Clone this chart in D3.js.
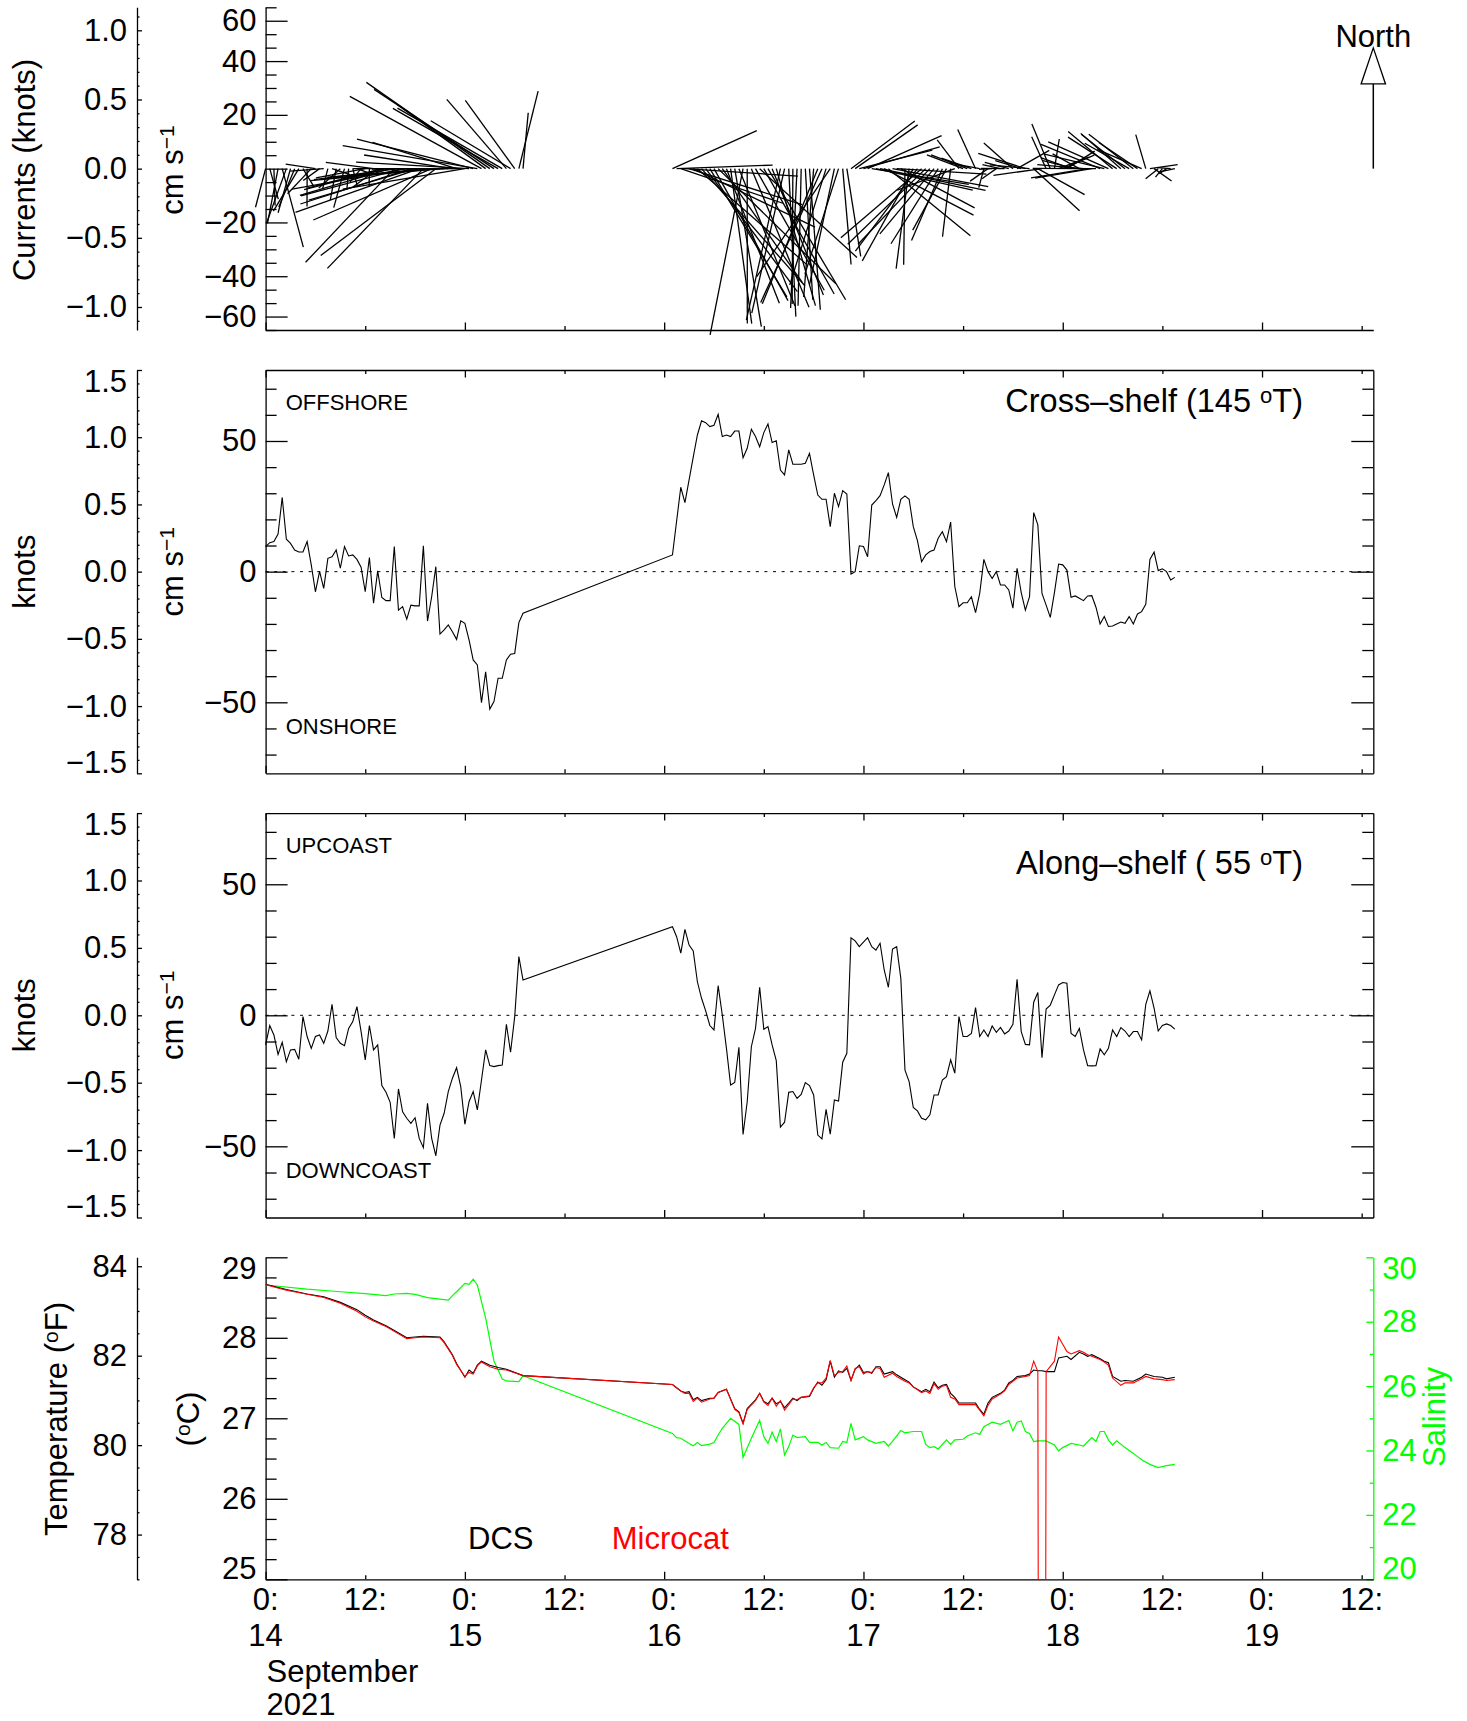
<!DOCTYPE html>
<html><head><meta charset="utf-8">
<script src="https://cdn.jsdelivr.net/npm/d3@7"></script>
<style>
body{margin:0;background:#fff;}
svg text{font-family:"Liberation Sans", Arial, Helvetica, sans-serif;}
</style></head><body>
<svg id="c" width="1467" height="1721"></svg>
<script>
// ---------------- DATA ----------------
// current samples: half-hourly, hours since 14 Sep 2021 00:00
const sampleStepHours = 0.5;
const hoursA = d3.range(0, 31.01, sampleStepHours);      // 14 Sep 00:00 .. 15 Sep 07:00
const hoursB = d3.range(49, 109.51, sampleStepHours);    // 16 Sep 01:00 .. 18 Sep 13:30
const axisEndHours = 133.4;

// Cross-shelf (145 deg T) component, cm/s
const crossShelfA = [
  9.6, 11.1, 11.5, 14.4, 28.4, 12.4, 10.8, 8.3, 7.5, 7.5,
  11.5, 2.6, -7.7, 0.1, -6.4, 5.1, 5.7, 8.3, 1.3, 9.6,
  6.0, 6.4, 4.7, 1.7, -7.7, 5.4, -12.1, 0.3, -9.9, -11.1,
  -11.1, 9.6, -14.7, -13.4, -18.2, -12.8, -13.1, -13.1, 9.9, -18.9,
  -9.6, 1.9, -23.9, -22.3, -20.4, -23.0, -25.9, -18.8, -19.8, -26.1,
  -33.8, -35.7, -50.1, -38.3, -52.6, -49.7, -40.8, -40.8, -33.8, -31.6,
  -31.3, -19.5, -15.9];
const crossShelfB = [
  6.4, 19.4, 32.3, 26.4, 35.1, 43.8, 52.3, 57.7, 57.0, 55.5,
  56.0, 60.2, 51.7, 52.3, 51.7, 53.8, 53.8, 43.6, 47.2, 54.5,
  51.7, 47.8, 53.2, 56.5, 49.4, 50.1, 38.9, 37.0, 46.6, 41.1,
  41.1, 41.1, 41.5, 45.3, 37.0, 29.3, 27.7, 27.7, 17.2, 30.0,
  24.9, 31.0, 29.7, -0.9, 0.0, 9.9, 9.6, 5.7, 25.5, 27.2,
  29.1, 33.2, 37.9, 25.9, 20.8, 27.7, 29.0, 27.7, 17.2, 11.9,
  3.8, 6.4, 7.7, 8.3, 12.8, 15.3, 11.5, 19.0, -5.7, -13.4,
  -11.9, -11.9, -9.6, -15.7, -8.3, 4.7, 0.0, -2.6, 0.0, -5.1,
  -5.1, -7.0, -14.0, 1.3, -8.0, -14.7, -9.6, 22.6, 17.9, -8.3,
  -12.8, -17.5, -8.0, 2.9, 2.6, 0.6, -9.8, -9.3, -10.2, -11.1,
  -9.3, -9.2, -13.6, -20.0, -17.2, -21.0, -20.8, -20.0, -19.3, -19.8,
  -17.2, -20.0, -16.2, -15.3, -12.5, 4.7, 7.5, 0.4, 1.1, 0.0,
  -3.2, -2.2];

// Along-shelf (55 deg T) component, cm/s
const alongShelfA = [
  -11.3, -3.9, -7.5, -14.9, -10.3, -17.7, -13.2, -13.0, -16.8, -0.5,
  -8.1, -12.6, -8.1, -7.5, -10.7, -6.0, 4.2, -8.5, -10.7, -11.6,
  -5.0, -2.4, 3.3, -6.2, -17.0, -3.9, -13.2, -11.3, -26.8, -29.4,
  -33.2, -47.0, -28.1, -36.8, -39.3, -41.2, -39.1, -47.0, -50.5, -33.6,
  -47.0, -53.6, -41.9, -37.4, -29.1, -24.0, -20.0, -27.2, -41.6, -33.0,
  -29.1, -36.1, -24.7, -13.2, -19.2, -19.6, -19.2, -19.0, -3.4, -14.1,
  -0.5, 22.4, 13.5];
const alongShelfB = [
  33.8, 30.0, 23.7, 32.8, 26.8, 24.6, 12.8, 6.5, 1.7, -3.9,
  -5.6, 11.3, 0.1, -12.6, -26.6, -25.6, -12.2, -45.5, -33.0, -12.0,
  -5.0, 10.7, -5.3, -4.3, -11.3, -17.3, -42.7, -40.8, -29.4, -29.1,
  -31.7, -30.2, -25.7, -26.8, -30.4, -45.7, -47.2, -35.9, -45.4, -32.3,
  -32.7, -17.9, -14.5, 29.6, 28.4, 26.2, 27.9, 29.6, 26.2, 24.9,
  27.5, 17.3, 10.7, 25.3, 26.2, 14.1, -20.9, -25.3, -35.2, -36.5,
  -39.3, -39.9, -38.0, -30.4, -30.4, -24.7, -23.4, -17.0, -22.1, -0.5,
  -8.1, -8.1, -6.9, 2.9, -8.1, -5.6, -8.1, -4.1, -6.5, -4.6,
  -7.1, -6.0, -3.4, 13.7, -6.2, -11.1, -11.3, 5.0, 8.7, -16.2,
  2.4, 3.9, 7.8, 11.6, 12.5, 12.2, -6.9, -8.1, -5.0, -13.2,
  -19.2, -19.3, -19.2, -12.8, -15.1, -12.6, -5.6, -8.1, -4.7, -6.0,
  -8.1, -6.2, -6.2, -9.4, 4.2, 9.3, 2.7, -6.0, -3.9, -3.3,
  -3.9, -5.3];

const crossShelfBearing = 145;   // deg True
const alongShelfBearing = 55;    // deg True
const cmPerKnot = 51.444;

// Temperature (deg C): DCS and Microcat
const tempHours = [
  0, 2.5, 5, 7, 9, 11, 12, 13, 14.5, 15.5,
  17, 18, 19, 21, 21.5, 22.5, 23, 24, 24.5, 25,
  25.5, 26, 27, 28, 29, 31,
  49, 50, 50.5, 51, 51.5, 52, 52.5, 53.5, 54, 54.5,
  55.5, 56.5, 57, 57.5, 58, 59, 59.5, 60, 60.5, 61,
  61.5, 62, 62.5, 63, 63.5, 64, 64.5, 65.5, 66, 66.5,
  67, 67.5, 68, 68.5, 69, 69.5, 70, 70.5, 71, 71.5,
  72, 72.5, 73, 73.5, 74, 74.5, 75.5, 76, 77, 77.5,
  78, 79, 79.5, 80, 80.5, 81, 81.5, 82, 82.5, 83,
  83.5, 84.5, 85.5, 86, 86.5, 87, 87.5, 88.5, 89, 89.5,
  90, 90.5, 91.5, 92, 92.5, 93, 93.5, 94, 95, 95.5,
  96.5, 97, 98, 98.5, 99, 99.5, 100.5, 101, 101.5, 102,
  103, 103.5, 104.5, 105.5, 106, 107, 108, 108.5, 109.5];
const dcsTemp = [
  28.665, 28.60, 28.545, 28.51, 28.44, 28.35, 28.28, 28.22, 28.15, 28.09,
  28.00, 28.01, 28.02, 28.01, 27.95, 27.79, 27.68, 27.51, 27.60, 27.56,
  27.66, 27.71, 27.66, 27.63, 27.61, 27.53,
  27.42, 27.34, 27.32, 27.33, 27.23, 27.26, 27.22, 27.25, 27.25, 27.32,
  27.36, 27.12, 27.08, 26.94, 27.12, 27.23, 27.31, 27.21, 27.18, 27.25,
  27.18, 27.21, 27.13, 27.19, 27.25, 27.22, 27.26, 27.27, 27.37, 27.45,
  27.41, 27.48, 27.71, 27.51, 27.59, 27.57, 27.62, 27.47, 27.61, 27.66,
  27.57, 27.58, 27.56, 27.64, 27.64, 27.55, 27.58, 27.54, 27.48, 27.45,
  27.39, 27.33, 27.36, 27.33, 27.45, 27.38, 27.41, 27.42, 27.31, 27.26,
  27.19, 27.19, 27.19, 27.11, 27.05, 27.19, 27.26, 27.31, 27.35, 27.44,
  27.47, 27.52, 27.53, 27.55, 27.60, 27.59, 27.59, 27.58, 27.58, 27.75,
  27.77, 27.73, 27.82, 27.80, 27.77, 27.79, 27.74, 27.71, 27.69, 27.52,
  27.46, 27.47, 27.46, 27.51, 27.55, 27.52, 27.51, 27.49, 27.51];
const microcatTemp = [
  28.66, 28.59, 28.54, 28.50, 28.43, 28.33, 28.26, 28.21, 28.14, 28.08,
  27.99, 28.00, 28.01, 28.00, 27.94, 27.78, 27.67, 27.52, 27.57, 27.55,
  27.65, 27.70, 27.64, 27.61, 27.60, 27.53,
  27.42, 27.34, 27.31, 27.31, 27.21, 27.25, 27.20, 27.24, 27.25, 27.32,
  27.36, 27.11, 27.07, 26.93, 27.11, 27.22, 27.31, 27.20, 27.16, 27.25,
  27.15, 27.22, 27.10, 27.17, 27.24, 27.23, 27.26, 27.28, 27.38, 27.44,
  27.44, 27.50, 27.72, 27.53, 27.57, 27.58, 27.65, 27.47, 27.62, 27.64,
  27.55, 27.58, 27.57, 27.63, 27.62, 27.51, 27.56, 27.52, 27.46, 27.44,
  27.39, 27.32, 27.34, 27.31, 27.43, 27.36, 27.40, 27.41, 27.26, 27.24,
  27.17, 27.17, 27.17, 27.10, 27.03, 27.16, 27.24, 27.30, 27.34, 27.42,
  27.46, 27.50, 27.52, 27.53, 27.71, 27.58, 0.0, 27.58, 27.71, 28.01,   // 0.0 = bad sample (off scale)
  27.83, 27.80, 27.84, 27.82, 27.79, 27.77, 27.73, 27.70, 27.66, 27.50,
  27.41, 27.44, 27.44, 27.49, 27.52, 27.49, 27.48, 27.47, 27.48];

// Salinity
const salinityHours = [
  0, 5, 9, 12, 14.5, 15.5, 17, 18, 19.5, 21,
  22, 22.5, 23, 24, 24.5, 25, 25.5, 26.5, 27.5, 28.5,
  29, 30.5, 31,
  49, 49.5, 50, 51, 51.5, 52, 52.5, 53.5, 54, 54.5,
  55, 56, 57, 57.5, 58.5, 59.5, 60, 60.5, 61, 61.5,
  62, 62.5, 63, 63.5, 64, 65, 65.5, 66.5, 67, 67.5,
  68, 69, 69.5, 70, 70.5, 71, 72, 72.5, 73.5, 74.5,
  75, 75.5, 76.5, 77, 78, 79, 79.5, 80, 80.5, 81,
  82, 82.5, 83, 84, 84.5, 85.5, 86, 86.5, 87.5, 88.5,
  89.5, 90, 90.5, 91, 91.5, 92, 92.5, 93, 94, 95,
  95.5, 96, 97, 98, 98.5, 99.5, 100, 100.5, 101, 101.5,
  102, 102.5, 103.5, 104.5, 105.5, 106.5, 107.5, 108.5, 109.5];
const salinity = [
  29.14, 29.01, 28.93, 28.87, 28.81, 28.86, 28.88, 28.85, 28.75, 28.70,
  28.67, 28.81, 28.93, 29.19, 29.16, 29.32, 29.14, 28.11, 26.78, 26.22,
  26.16, 26.14, 26.32,
  24.53, 24.40, 24.38, 24.22, 24.15, 24.25, 24.15, 24.20, 24.25, 24.48,
  24.69, 25.00, 24.81, 23.78, 24.38, 24.94, 24.43, 24.22, 24.57, 24.28,
  24.67, 23.86, 24.12, 24.48, 24.40, 24.43, 24.25, 24.25, 24.17, 24.25,
  24.09, 24.07, 24.28, 24.25, 24.84, 24.33, 24.43, 24.33, 24.22, 24.28,
  24.14, 24.28, 24.62, 24.55, 24.59, 24.59, 24.19, 24.09, 24.12, 24.05,
  24.33, 24.19, 24.33, 24.35, 24.45, 24.55, 24.50, 24.74, 24.88, 24.81,
  24.93, 24.61, 24.88, 24.92, 24.59, 24.53, 24.28, 24.30, 24.30, 24.17,
  23.99, 24.09, 24.22, 24.17, 24.14, 24.40, 24.28, 24.59, 24.59, 24.33,
  24.17, 24.30, 24.09, 23.91, 23.71, 23.57, 23.47, 23.53, 23.57];

// tick labels
const dayTickHours = [0, 24, 48, 72, 96, 120];
const halfDayTickHours = [12, 36, 60, 84, 108, 132];
const dayLabels = ["14", "15", "16", "17", "18", "19"];
const stickTickValues = [-55, -40, -20, 0, 20, 40, 55];
const stickTickLabels = ["\u221260", "\u221240", "\u221220", "0", "20", "40", "60"];
const shelfCmTicks = [-50, 0, 50];
const knotTicks = [-1.5, -1.0, -0.5, 0.0, 0.5, 1.0, 1.5];
const celsiusTicks = [25, 26, 27, 28, 29];
const fahrenheitTicks = [78, 80, 82, 84];
const salinityTicks = [20, 22, 24, 26, 28, 30];

// ---------------- DRAWING ----------------
const FONT = '"Liberation Sans", Arial, Helvetica, sans-serif';
const FS = 31;
const svg = d3.select("#c");
const minus = s => s.replace("-", "\u2212");

const x = d3.scaleLinear().domain([0, axisEndHours]).range([265.6, 1373.3]);
const XL = x.range()[0], XR = x.range()[1];
const KX = 137;  // knots / deg F axis position

const P1 = {top: 7.3, bottom: 330}, P2 = {top: 370, bottom: 773.3},
      P3 = {top: 813.1, bottom: 1217.5}, P4 = {top: 1257.3, bottom: 1579.3};

const yStick = d3.scaleLinear().domain([-60, 60]).range([P1.bottom, P1.top]);
const yStickK = d3.scaleLinear().domain([-60 / cmPerKnot, 60 / cmPerKnot]).range([P1.bottom, P1.top]);
const shelfMax = 1.5 * cmPerKnot;
const yCross = d3.scaleLinear().domain([-shelfMax, shelfMax]).range([P2.bottom, P2.top]);
const yCrossK = d3.scaleLinear().domain([-1.5, 1.5]).range([P2.bottom, P2.top]);
const yAlong = d3.scaleLinear().domain([-shelfMax, shelfMax]).range([P3.bottom, P3.top]);
const yAlongK = d3.scaleLinear().domain([-1.5, 1.5]).range([P3.bottom, P3.top]);
const yC = d3.scaleLinear().domain([25, 29]).range([P4.bottom, P4.top]);
const yF = d3.scaleLinear().domain([77, 29 * 1.8 + 32]).range([P4.bottom, P4.top]);
const yS = d3.scaleLinear().domain([20, 30]).range([P4.bottom, P4.top]);

function styleAxis(g, color) {
  g.attr("font-size", FS).attr("font-family", FONT).attr("color", color || "#000");
  g.selectAll("path.domain").attr("stroke-width", 1.3);
  g.selectAll(".tick line").attr("stroke-width", 1.3);
}

function yAxis(scale, opt) {
  const fn = opt.orient === "left" ? d3.axisLeft : d3.axisRight;
  if (opt.minors) {
    const gm = svg.append("g").attr("transform", `translate(${opt.x},0)`)
      .call(fn(scale).tickValues(opt.minors).tickSizeInner(-opt.minor).tickSizeOuter(0).tickFormat(""));
    gm.select(".domain").remove();
    styleAxis(gm, opt.color);
  }
  const g = svg.append("g").attr("transform", `translate(${opt.x},0)`)
    .call(fn(scale).tickValues(opt.values).tickSizeInner(-opt.major).tickSizeOuter(0)
      .tickPadding(opt.pad || 9).tickFormat(opt.fmt || ""));
  styleAxis(g, opt.color);
  const [d0, d1] = scale.domain();
  const tol = (d1 - d0) * 1e-3;
  g.selectAll(".tick text").attr("dy", d =>
    Math.abs(d - d1) < tol ? "0.68em" : (Math.abs(d - d0) < tol ? "-0.04em" : "0.32em"));
  return g;
}

function xAxis(yPos, orient) {
  const fn = orient === "top" ? d3.axisTop : d3.axisBottom;
  const gm = svg.append("g").attr("transform", `translate(0,${yPos})`)
    .call(fn(x).tickValues(halfDayTickHours).tickSizeInner(-4).tickSizeOuter(0).tickFormat(""));
  gm.select(".domain").remove();
  styleAxis(gm);
  const g = svg.append("g").attr("transform", `translate(0,${yPos})`)
    .call(fn(x).tickValues(dayTickHours).tickSizeInner(-7.5).tickSizeOuter(0).tickFormat(""));
  styleAxis(g);
}

function minorRange(a, b, step, majors) {
  return d3.range(a, b + step / 2, step).filter(v => !majors.some(m => Math.abs(m - v) < step / 10));
}

function rotLabel(cx, cy, parts, color) {
  const t = svg.append("text").attr("transform", `translate(${cx},${cy}) rotate(-90)`)
    .attr("text-anchor", "middle").attr("font-size", FS).attr("fill", color || "#000");
  addParts(t, parts);
  return t;
}
function addParts(t, parts) {
  // parts: array of [string, isSuperscript]
  let up = false;
  parts.forEach(([s, sup]) => {
    const ts = t.append("tspan").text(s);
    if (sup && !up) { ts.attr("dy", "-0.42em").attr("font-size", "0.68em"); up = true; }
    else if (!sup && up) { ts.attr("dy", "0.29em"); up = false; }
  });
}
function knotFmt(d) { return minus(d3.format(".1f")(d)); }

// ---------- Panel 1: stick plot ----------
const hoursAll = hoursA.concat(hoursB);
const crossAll = crossShelfA.concat(crossShelfB);
const alongAll = alongShelfA.concat(alongShelfB);
const rad = Math.PI / 180;
const sticks = hoursAll.map((h, i) => {
  const c = crossAll[i], a = alongAll[i];
  return {
    h,
    east: c * Math.sin(crossShelfBearing * rad) + a * Math.sin(alongShelfBearing * rad),
    north: c * Math.cos(crossShelfBearing * rad) + a * Math.cos(alongShelfBearing * rad)
  };
});
const pxPerCm = yStick(0) - yStick(1);

yAxis(yStick, {orient: "left", x: XL, values: stickTickValues, major: 22, minor: 11,
  minors: minorRange(-60, 60, 5, stickTickValues), fmt: (d, i) => stickTickLabels[i], pad: 9});
yAxis(yStickK, {orient: "left", x: KX, values: [-1, -0.5, 0, 0.5, 1], major: 5, minor: 2.5,
  minors: minorRange(-1.1, 1.1, 0.1, [-1, -0.5, 0, 0.5, 1]), fmt: knotFmt, pad: 10});
xAxis(P1.bottom, "bottom");

svg.append("g").selectAll("line").data(sticks).join("line")
  .attr("x1", d => x(d.h)).attr("y1", yStick(0))
  .attr("x2", d => x(d.h) + d.east * pxPerCm).attr("y2", d => yStick(d.north))
  .attr("stroke", "#000").attr("stroke-width", 1.3);

// North arrow
const arrowLen = 44.9, headLen = 13.4, headHalf = 12.2;
svg.append("line").attr("x1", XR).attr("x2", XR).attr("y1", yStick(0)).attr("y2", yStick(arrowLen - headLen))
  .attr("stroke", "#000").attr("stroke-width", 1.5);
svg.append("path")
  .attr("d", `M${XR},${yStick(arrowLen)} L${XR - headHalf},${yStick(arrowLen - headLen)} L${XR + headHalf},${yStick(arrowLen - headLen)} Z`)
  .attr("fill", "#fff").attr("stroke", "#000").attr("stroke-width", 1.3);
svg.append("text").attr("x", XR).attr("y", 46.7).attr("text-anchor", "middle").attr("font-size", FS).text("North");

rotLabel(24, 170, [["Currents (knots)", false]]).attr("dy", "0.35em");
rotLabel(172, 170, [["cm s", false], ["\u22121", true]]).attr("dy", "0.35em");

// ---------- Panels 2 & 3 ----------
function shelfPanel(P, yCm, yK, values) {
  yAxis(yCm, {orient: "left", x: XL, values: shelfCmTicks, major: 22, minor: 11,
    minors: minorRange(-70, 70, 10, shelfCmTicks), fmt: d => minus(String(d)), pad: 9});
  yAxis(yCm, {orient: "right", x: XR, values: shelfCmTicks, major: 22, minor: 11,
    minors: minorRange(-70, 70, 10, shelfCmTicks), fmt: null});
  yAxis(yK, {orient: "left", x: KX, values: knotTicks, major: 5, minor: 2.5,
    minors: minorRange(-1.5, 1.5, 0.1, knotTicks), fmt: knotFmt, pad: 10});
  xAxis(P.bottom, "bottom");
  xAxis(P.top, "top");
  svg.append("line").attr("x1", XL).attr("x2", XR).attr("y1", yCm(0)).attr("y2", yCm(0))
    .attr("stroke", "#000").attr("stroke-width", 1).attr("stroke-dasharray", "3 5.6");
  const line = d3.line().x(d => x(d[0])).y(d => yCm(d[1]));
  svg.append("path").datum(hoursAll.map((h, i) => [h, values[i]])).attr("d", line)
    .attr("fill", "none").attr("stroke", "#000").attr("stroke-width", 1.1);
  const cy = (P.top + P.bottom) / 2;
  rotLabel(24, cy, [["knots", false]]).attr("dy", "0.35em");
  rotLabel(172, cy, [["cm s", false], ["\u22121", true]]).attr("dy", "0.35em");
}
shelfPanel(P2, yCross, yCrossK, crossAll);
shelfPanel(P3, yAlong, yAlongK, alongAll);

const small = 22;
svg.append("text").attr("x", 285.7).attr("y", 410).attr("font-size", small).text("OFFSHORE");
svg.append("text").attr("x", 285.7).attr("y", 734).attr("font-size", small).text("ONSHORE");
svg.append("text").attr("x", 285.7).attr("y", 852.7).attr("font-size", small).text("UPCOAST");
svg.append("text").attr("x", 285.7).attr("y", 1177.7).attr("font-size", small).text("DOWNCOAST");
addParts(svg.append("text").attr("x", 1303).attr("y", 412).attr("text-anchor", "end").attr("font-size", 32.5),
  [["Cross\u2013shelf (" + crossShelfBearing + " ", false], ["o", true], ["T)", false]]);
addParts(svg.append("text").attr("x", 1303).attr("y", 874).attr("text-anchor", "end").attr("font-size", 32.5),
  [["Along\u2013shelf ( " + alongShelfBearing + " ", false], ["o", true], ["T)", false]]);

// ---------- Panel 4: temperature & salinity ----------
yAxis(yC, {orient: "left", x: XL, values: celsiusTicks, major: 22, minor: 11,
  minors: minorRange(25, 29, 0.25, celsiusTicks), fmt: d => String(d), pad: 9});
yAxis(yF, {orient: "left", x: KX, values: fahrenheitTicks, major: 5, minor: 2.5,
  minors: minorRange(77, 84, 0.5, fahrenheitTicks), fmt: d => String(d), pad: 10});
yAxis(yS, {orient: "right", x: XR, values: salinityTicks, major: 7, minor: 3.5,
  minors: minorRange(21, 29, 2, []), fmt: d => String(d), pad: 9, color: "#00ff00"});
xAxis(P4.bottom, "bottom");

svg.append("clipPath").attr("id", "clip4").append("rect")
  .attr("x", XL).attr("y", P4.top).attr("width", XR - XL).attr("height", P4.bottom - P4.top);
const g4 = svg.append("g").attr("clip-path", "url(#clip4)");
g4.append("path").datum(salinityHours.map((h, i) => [h, salinity[i]]))
  .attr("d", d3.line().x(d => x(d[0])).y(d => yS(d[1])))
  .attr("fill", "none").attr("stroke", "#00ff00").attr("stroke-width", 1.2);
g4.append("path").datum(tempHours.map((h, i) => [h, dcsTemp[i]]))
  .attr("d", d3.line().x(d => x(d[0])).y(d => yC(d[1])))
  .attr("fill", "none").attr("stroke", "#000").attr("stroke-width", 1.1);
g4.append("path").datum(tempHours.map((h, i) => [h, microcatTemp[i]]))
  .attr("d", d3.line().x(d => x(d[0])).y(d => yC(d[1])))
  .attr("fill", "none").attr("stroke", "#ff0000").attr("stroke-width", 1.1);

svg.append("text").attr("x", 468).attr("y", 1549).attr("font-size", FS).text("DCS");
svg.append("text").attr("x", 611.7).attr("y", 1549).attr("font-size", FS).attr("fill", "#ff0000").text("Microcat");

rotLabel(56, 1419, [["Temperature (", false], ["o", true], ["F)", false]]).attr("dy", "0.35em");
rotLabel(188, 1419, [["(", false], ["o", true], ["C)", false]]).attr("dy", "0.35em");
rotLabel(1434, 1417, [["Salinity", false]], "#00ff00").attr("dy", "0.35em");

// x tick labels
const xt = svg.append("g").attr("font-size", FS).attr("text-anchor", "middle");
xt.selectAll("text.d").data(dayTickHours).join("text").attr("class", "d")
  .attr("x", d => x(d)).attr("y", 1610).text("0:");
xt.selectAll("text.n").data(dayTickHours).join("text").attr("class", "n")
  .attr("x", d => x(d)).attr("y", 1646).text((d, i) => dayLabels[i]);
xt.selectAll("text.h").data(halfDayTickHours).join("text").attr("class", "h")
  .attr("x", d => x(d)).attr("y", 1610).text("12:");
svg.append("text").attr("x", XL + 1).attr("y", 1682).attr("font-size", FS).text("September");
svg.append("text").attr("x", XL + 1).attr("y", 1715).attr("font-size", FS).text("2021");
</script></body></html>
